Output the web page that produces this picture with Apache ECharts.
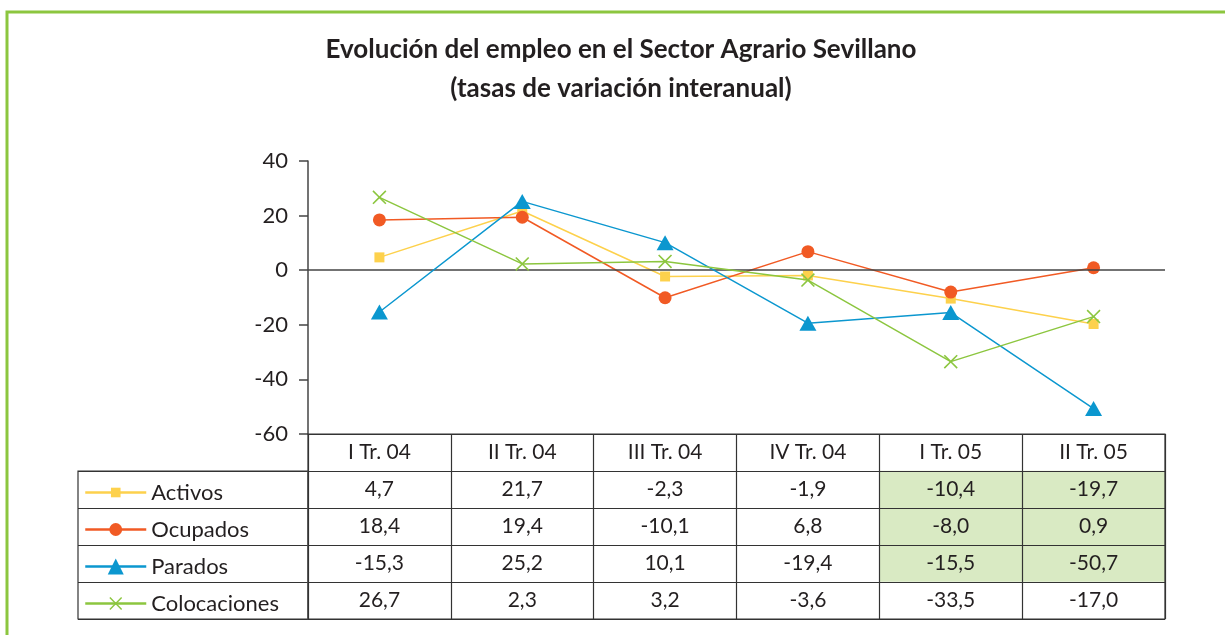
<!DOCTYPE html>
<html>
<head>
<meta charset="utf-8">
<title>Evolución del empleo en el Sector Agrario Sevillano</title>
<script src="https://cdn.jsdelivr.net/npm/echarts@6/dist/echarts.min.js"></script>
<style>html,body{margin:0;padding:0;background:#fff;}</style>
</head>
<body>
<div id="main" style="width:1225px;height:635px;"></div>
<script>
// datos (tasas de variación interanual, %)
var trimestres = ['I Tr. 04', 'II Tr. 04', 'III Tr. 04', 'IV Tr. 04', 'I Tr. 05', 'II Tr. 05'];
var nombres = ['Activos', 'Ocupados', 'Parados', 'Colocaciones'];
var activos = [4.7, 21.7, -2.3, -1.9, -10.4, -19.7];
var ocupados = [18.4, 19.4, -10.1, 6.8, -8.0, 0.9];
var parados = [-15.3, 25.2, 10.1, -19.4, -15.5, -50.7];
var colocaciones = [26.7, 2.3, 3.2, -3.6, -33.5, -17.0];
var ejeYMin = -60, ejeYMax = 40, ejeYPaso = 20;
// celdas sombreadas de la tabla
var filasResaltadas = ['Activos', 'Ocupados', 'Parados'];
var columnasResaltadas = ['I Tr. 05', 'II Tr. 05'];

var valores = [activos, ocupados, parados, colocaciones];

var fuente = 'Lato';
var texto = '#231f20';
var borde = '#333';
var verdeCelda = '#d9eac3';

var estilos = {
  Activos:      { color: '#fdd14c', symbol: 'rect', size: 10, legendH: 12 },
  Ocupados:     { color: '#f15a24', symbol: 'circle', size: 13, legendH: 16 },
  Parados:      { color: '#0b97cf', symbol: 'triangle', size: [17, 15], legendH: 20 },
  Colocaciones: { color: '#8cc63f',
                  symbol: 'path://M0,0.8L0.8,0L5,4.2L9.2,0L10,0.8L5.8,5L10,9.2L9.2,10L5,5.8L0.8,10L0,9.2L4.2,5Z',
                  size: 14, legendH: 16 }
};

function coma(v) { return v.toFixed(1).replace('.', ','); }

var myChart = echarts.init(document.getElementById('main'));

// series de líneas
var series = nombres.map(function (n, i) {
  var e = estilos[n];
  var s = {
    name: n,
    type: 'line',
    xAxisIndex: 0,
    yAxisIndex: 0,
    data: valores[i],
    symbol: e.symbol,
    symbolSize: e.size,
    color: e.color,
    itemStyle: { color: e.color },
    lineStyle: { color: e.color, width: 1.5 },
    z: 3 + i
  };
  if (i === 0) {
    s.markLine = {
      silent: true,
      symbol: ['none', 'none'],
      label: { show: false },
      lineStyle: { color: '#444', width: 1.5, type: 'solid' },
      data: [{ yAxis: 0 }]
    };
  }
  return s;
});

// celdas de la tabla
var celdas = [];
nombres.forEach(function (n, r) {
  valores[r].forEach(function (v, c) {
    var sombra = filasResaltadas.indexOf(n) >= 0 && columnasResaltadas.indexOf(trimestres[c]) >= 0;
    celdas.push({ value: [c, r + 1, v], itemStyle: { color: sombra ? verdeCelda : '#fff' } });
  });
});
series.push({
  type: 'heatmap',
  xAxisIndex: 1,
  yAxisIndex: 1,
  data: celdas,
  z: 1,
  label: {
    show: true,
    color: texto,
    fontFamily: fuente,
    fontSize: 21,
    formatter: function (p) { return coma(p.value[2]); }
  },
  emphasis: { disabled: true }
});

// una leyenda por fila de la tabla
var filaAlto = 37, tablaTop = 471;
var legendas = nombres.map(function (n, i) {
  return {
    data: [n],
    left: 84,
    top: tablaTop + filaAlto * (i + 0.5) + 3 - 12,
    padding: 0,
    itemWidth: 61,
    itemHeight: estilos[n].legendH,
    selectedMode: false,
    lineStyle: { width: 2.5 },
    textStyle: { fontFamily: fuente, fontSize: 22, lineHeight: 24, color: texto }
  };
});

myChart.setOption({
  animation: false,
  backgroundColor: '#fff',
  title: {
    text: 'Evolución del empleo en el Sector Agrario Sevillano\n(tasas de variación interanual)',
    left: 621,
    top: 30,
    padding: 0,
    textAlign: 'center',
    textStyle: { fontFamily: fuente, fontSize: 26, fontWeight: 'bold', lineHeight: 39, color: texto }
  },
  legend: legendas,
  graphic: [{
    type: 'rect',
    silent: true,
    shape: { x: 7, y: 12, width: 1400, height: 800 },
    style: { fill: 'none', stroke: '#8cc63f', lineWidth: 3 }
  }],
  grid: [
    { left: 308, right: 60, top: 161, bottom: 201, outerBoundsMode: 'none' },
    { left: 308, right: 60, top: 434, bottom: 16, show: true, z: 5,
      backgroundColor: 'transparent', borderColor: borde, borderWidth: 1.2, outerBoundsMode: 'none' },
    { left: 78, right: 1225 - 308, top: tablaTop, bottom: 16, show: true,
      backgroundColor: 'transparent', borderColor: borde, borderWidth: 1.2, outerBoundsMode: 'none' }
  ],
  xAxis: [
    { gridIndex: 0, type: 'category', data: trimestres, boundaryGap: true, show: false },
    { gridIndex: 1, type: 'category', data: trimestres, position: 'top', z: 5,
      axisLine: { show: false }, axisTick: { show: false },
      axisLabel: { inside: true, margin: 8, interval: 0, fontFamily: fuente, fontSize: 21, color: texto },
      splitLine: { show: true, interval: 0, lineStyle: { color: borde, width: 1.2 } } },
    { gridIndex: 2, type: 'value', show: false }
  ],
  yAxis: [
    { gridIndex: 0, type: 'value', min: ejeYMin, max: ejeYMax, interval: ejeYPaso,
      axisLine: { show: true, lineStyle: { color: '#444', width: 1.5 } },
      axisTick: { show: true, length: 9, lineStyle: { color: '#444', width: 1.5 } },
      axisLabel: { margin: 20, fontFamily: fuente, fontSize: 22, color: texto },
      splitLine: { show: false } },
    { gridIndex: 1, type: 'category', data: [''].concat(nombres), inverse: true, z: 5,
      axisLine: { show: false }, axisTick: { show: false }, axisLabel: { show: false },
      splitLine: { show: true, interval: 0, lineStyle: { color: borde, width: 1.2 } } },
    { gridIndex: 2, type: 'category', data: nombres, inverse: true,
      axisLine: { show: false }, axisTick: { show: false }, axisLabel: { show: false },
      splitLine: { show: true, interval: 0, lineStyle: { color: borde, width: 1.2 } } }
  ],
  series: series
});
</script>
</body>
</html>
